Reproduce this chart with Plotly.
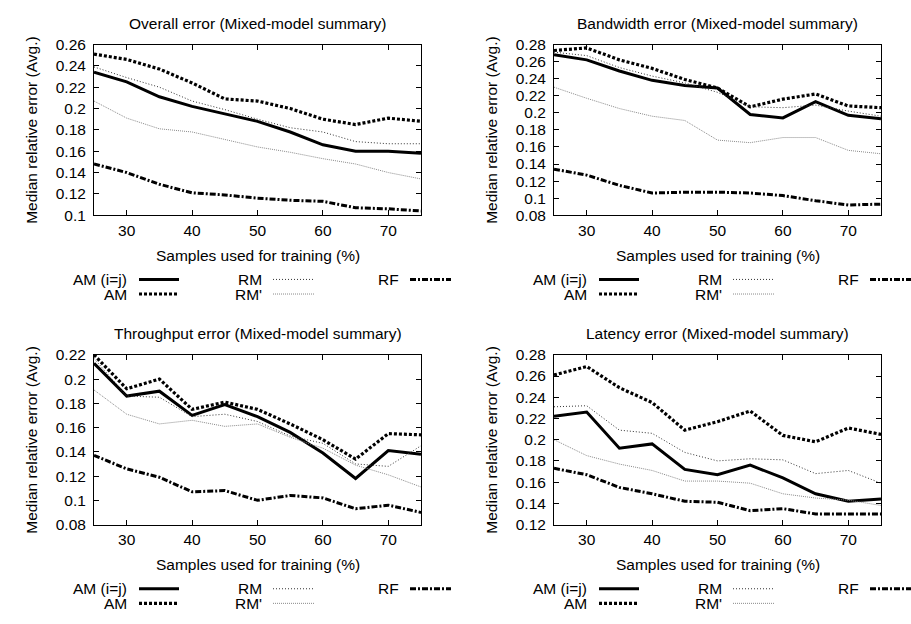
import plotly.graph_objects as go

W, H = 911, 624

x_vals = [25, 30, 35, 40, 45, 50, 55, 60, 65, 70, 75]
x_ticks = [30, 40, 50, 60, 70]

series_names = ["AM (i=j)", "AM", "RM", "RM'", "RF"]

titles = [
    "Overall error (Mixed-model summary)",
    "Bandwidth error (Mixed-model summary)",
    "Throughput error (Mixed-model summary)",
    "Latency error (Mixed-model summary)",
]
x_title = "Samples used for training (%)"
y_title = "Median relative error (Avg.)"

# Overall
overall_am_ij = [0.234, 0.225, 0.211, 0.202, 0.195, 0.188, 0.178, 0.166, 0.160, 0.160, 0.158]
overall_am = [0.251, 0.246, 0.237, 0.224, 0.209, 0.207, 0.200, 0.190, 0.185, 0.191, 0.188]
overall_rm = [0.239, 0.229, 0.220, 0.207, 0.199, 0.190, 0.182, 0.178, 0.169, 0.167, 0.167]
overall_rmp = [0.207, 0.191, 0.181, 0.178, 0.171, 0.164, 0.159, 0.153, 0.148, 0.140, 0.134]
overall_rf = [0.148, 0.140, 0.129, 0.121, 0.119, 0.116, 0.114, 0.113, 0.107, 0.106, 0.104]

# Bandwidth
bw_am_ij = [0.268, 0.262, 0.249, 0.238, 0.232, 0.229, 0.198, 0.194, 0.213, 0.197, 0.193]
bw_am = [0.273, 0.276, 0.262, 0.252, 0.239, 0.229, 0.207, 0.216, 0.222, 0.208, 0.206]
bw_rm = [0.271, 0.267, 0.253, 0.243, 0.235, 0.224, 0.207, 0.206, 0.209, 0.202, 0.196]
bw_rmp = [0.230, 0.217, 0.205, 0.196, 0.191, 0.168, 0.165, 0.171, 0.171, 0.156, 0.152]
bw_rf = [0.134, 0.127, 0.115, 0.106, 0.107, 0.107, 0.106, 0.103, 0.097, 0.092, 0.093]

# Throughput
tp_am_ij = [0.213, 0.186, 0.190, 0.170, 0.179, 0.169, 0.156, 0.139, 0.118, 0.141, 0.138]
tp_am = [0.220, 0.192, 0.200, 0.175, 0.181, 0.175, 0.163, 0.150, 0.134, 0.155, 0.154]
tp_rm = [0.217, 0.186, 0.185, 0.169, 0.171, 0.165, 0.153, 0.147, 0.130, 0.128, 0.145]
tp_rmp = [0.191, 0.171, 0.163, 0.166, 0.161, 0.163, 0.152, 0.143, 0.129, 0.121, 0.111]
tp_rf = [0.137, 0.126, 0.119, 0.107, 0.108, 0.100, 0.104, 0.102, 0.093, 0.096, 0.090]

# Latency
lat_am_ij = [0.222, 0.226, 0.192, 0.196, 0.172, 0.167, 0.176, 0.164, 0.149, 0.142, 0.144]
lat_am = [0.261, 0.269, 0.249, 0.235, 0.209, 0.217, 0.227, 0.204, 0.198, 0.211, 0.205]
lat_rm = [0.231, 0.232, 0.209, 0.206, 0.188, 0.180, 0.182, 0.181, 0.168, 0.171, 0.159]
lat_rmp = [0.200, 0.185, 0.177, 0.171, 0.161, 0.161, 0.159, 0.149, 0.145, 0.143, 0.138]
lat_rf = [0.173, 0.167, 0.155, 0.149, 0.142, 0.141, 0.133, 0.135, 0.130, 0.130, 0.130]

y_ticks_overall = [0.1, 0.12, 0.14, 0.16, 0.18, 0.2, 0.22, 0.24, 0.26]
y_ticks_bw = [0.08, 0.1, 0.12, 0.14, 0.16, 0.18, 0.2, 0.22, 0.24, 0.26, 0.28]
y_ticks_tp = [0.08, 0.1, 0.12, 0.14, 0.16, 0.18, 0.2, 0.22]
y_ticks_lat = [0.12, 0.14, 0.16, 0.18, 0.2, 0.22, 0.24, 0.26, 0.28]

panels = [
    (overall_am_ij, overall_am, overall_rm, overall_rmp, overall_rf, y_ticks_overall),
    (bw_am_ij, bw_am, bw_rm, bw_rmp, bw_rf, y_ticks_bw),
    (tp_am_ij, tp_am, tp_rm, tp_rmp, tp_rf, y_ticks_tp),
    (lat_am_ij, lat_am, lat_rm, lat_rmp, lat_rf, y_ticks_lat),
]

styles = [
    dict(color="black", width=3, dash="solid"),
    dict(color="black", width=3.2, dash="3px,2px"),
    dict(color="#333333", width=1, dash="1px,2px"),
    dict(color="#8a8a8a", width=1, dash="1px,1px"),
    dict(color="black", width=3, dash="6px,2px,2px,2px"),
]

FONT = "Liberation Sans, Arial, Helvetica, sans-serif"
FS = 15.5

def px(xp):
    return xp / W

def py(yp):
    return 1 - yp / H

col_left = [94, 554]
col_right = [421, 881]
row_top = [36.5, 355.5]
row_bottom = [212, 530]

fig = go.Figure()
annotations = []
shapes = []

for i, (a_ij, a, rm, rmp, rf, yt) in enumerate(panels):
    r, c = divmod(i, 2)
    idx = "" if i == 0 else str(i + 1)
    xa = "x" + idx
    ya = "y" + idx
    for name, vals, st in zip(series_names, [a_ij, a, rm, rmp, rf], styles):
        fig.add_trace(go.Scatter(x=x_vals, y=vals, mode="lines", name=name,
                                 line=st, xaxis=xa, yaxis=ya, showlegend=False,
                                 hoverinfo="skip"))
    common = dict(showline=True, linecolor="black", linewidth=1, mirror="allticks",
                  ticks="inside", ticklen=5, tickcolor="black", tickwidth=1,
                  showgrid=False, zeroline=False,
                  tickfont=dict(family=FONT, size=FS, color="black"))
    fig.update_layout(**{
        "xaxis" + idx: dict(domain=[px(col_left[c]), px(col_right[c])], range=[25, 75],
                            tickvals=x_ticks, ticktext=[str(v) for v in x_ticks],
                            anchor=ya, ticklabelstandoff=1, **common),
        "yaxis" + idx: dict(domain=[py(row_bottom[r]), py(row_top[r])], range=[yt[0], yt[-1]],
                            tickvals=yt, ticktext=[f"{v:g}" for v in yt],
                            anchor=xa, ticklabelstandoff=4, **common),
    })
    cx = (col_left[c] + col_right[c]) / 2
    cy = (row_top[r] + row_bottom[r]) / 2
    annotations.append(dict(text=titles[i], x=px(cx), y=py(row_top[r] - 21.5), xref="paper", yref="paper",
                            showarrow=False, xanchor="center", yanchor="middle",
                            font=dict(family=FONT, size=FS, color="black")))
    annotations.append(dict(text=x_title, x=px(cx), y=py(row_bottom[r] + 41), xref="paper", yref="paper",
                            showarrow=False, xanchor="center", yanchor="middle",
                            font=dict(family=FONT, size=FS, color="black")))
    annotations.append(dict(text=y_title, x=px(col_left[c] - 62), y=py(cy), xref="paper", yref="paper",
                            showarrow=False, xanchor="center", yanchor="middle", textangle=-90,
                            font=dict(family=FONT, size=FS, color="black")))
    off = 460 * c
    ly1 = row_bottom[r] + 66
    ly2 = ly1 + 15
    leg_items = [
        (0, 129, 139, 179, ly1),
        (1, 129, 139, 179, ly2),
        (2, 264, 273, 315, ly1),
        (3, 264, 273, 315, ly2),
        (4, 401, 410, 451, ly1),
    ]
    for si, tx, s0, s1, ly in leg_items:
        annotations.append(dict(text=series_names[si], x=px(tx + off), y=py(ly), xref="paper", yref="paper",
                                showarrow=False, xanchor="right", yanchor="middle",
                                font=dict(family=FONT, size=FS, color="black")))
        st = styles[si]
        shapes.append(dict(type="line", xref="paper", yref="paper",
                           x0=px(s0 + off), x1=px(min(s1 + off, W)), y0=py(ly), y1=py(ly),
                           line=dict(color=st["color"], width=st["width"], dash=st["dash"])))

fig.update_layout(width=W, height=H, margin=dict(l=0, r=0, t=0, b=0),
                  paper_bgcolor="white", plot_bgcolor="white",
                  annotations=annotations, shapes=shapes,
                  font=dict(family=FONT, size=FS, color="black"))

fig.write_html("out.html", config={"displayModeBar": False},
               post_script="document.body.style.margin='0';")
